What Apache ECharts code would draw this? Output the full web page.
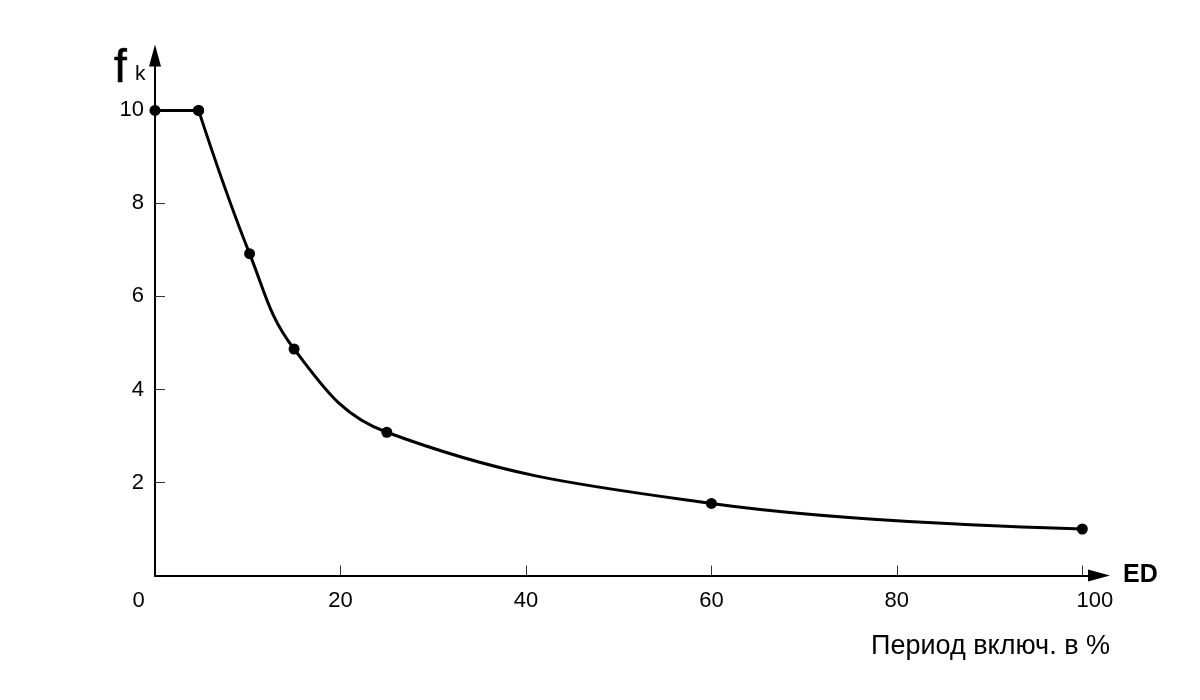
<!DOCTYPE html>
<html>
<head>
<meta charset="utf-8">
<script src="https://cdn.jsdelivr.net/npm/echarts@6/dist/echarts.min.js"></script>
<style>
html,body{margin:0;padding:0;background:#fff;}
#chart{width:1200px;height:700px;}
</style>
</head>
<body>
<div id="chart"></div>
<script>
// Data
var edValues = [0, 4.7, 10.2, 15, 25, 60, 100];   // ED, %
var fkValues = [10, 10, 6.92, 4.87, 3.08, 1.55, 1.0]; // f_k
var xTickValues = [0, 20, 40, 60, 80, 100];
var yTickValues = [2, 4, 6, 8, 10];
var xAxisName = 'ED';
var yNameMain = 'f';
var yNameSub = 'k';
var xCaption = 'Период включ. в %';

var FONT = '"Liberation Sans", Arial, sans-serif';

function pairs(from, to) {
  var out = [];
  for (var i = from; i < to; i++) out.push([edValues[i], fkValues[i]]);
  return out;
}

var chart = echarts.init(document.getElementById('chart'), null, {renderer: 'canvas'});
chart.setOption({
  animation: false,
  backgroundColor: '#ffffff',
  grid: {left: 155, right: 101, top: 55.5, bottom: 124.5, containLabel: false, outerBoundsMode: 'none'},
  xAxis: {
    type: 'value', min: 0, max: 101.8,
    axisLine: {show: true, lineStyle: {color: '#000', width: 2}, symbol: ['none', 'triangle'], symbolSize: [12, 22]},
    axisTick: {show: true, inside: true, length: 10, lineStyle: {color: '#333', width: 1}, customValues: xTickValues.filter(function(v){return v !== 0;})},
    axisLabel: {
      show: true, customValues: xTickValues, margin: 14, color: '#000', fontSize: 22, fontFamily: FONT,
      formatter: function (v) {
        if (v === 0) return '{z|0}';
        if (v === 100) return '{h|100}';
        return String(v);
      },
      rich: {
        z: {padding: [0, 33, 0, 0], fontSize: 22, fontFamily: FONT, color: '#000'},
        h: {padding: [0, 0, 0, 25], fontSize: 22, fontFamily: FONT, color: '#000'}
      }
    },
    splitLine: {show: false},
    name: xAxisName, nameLocation: 'end', nameGap: 24,
    nameTextStyle: {color: '#000', fontSize: 25, fontWeight: 'bold', fontFamily: FONT, align: 'left', verticalAlign: 'middle'}
  },
  yAxis: {
    type: 'value', min: 0, max: 11.18,
    axisLine: {show: true, lineStyle: {color: '#000', width: 2}, symbol: ['none', 'triangle'], symbolSize: [12, 22]},
    axisTick: {show: true, inside: true, length: 10, lineStyle: {color: '#333', width: 1}, customValues: yTickValues},
    axisLabel: {show: true, customValues: yTickValues, margin: 11, color: '#000', fontSize: 22, fontFamily: FONT},
    splitLine: {show: false}
  },
  graphic: [
    {type: 'text', x: 114, y: 69, style: {text: yNameMain, fontSize: 46, fontFamily: FONT, fill: '#000', stroke: '#000', lineWidth: 0.6, verticalAlign: 'middle', align: 'left'}},
    {type: 'text', x: 135, y: 74.7, style: {text: yNameSub, fontSize: 21, fontFamily: FONT, fill: '#000', verticalAlign: 'middle', align: 'left'}},
    {type: 'text', x: 871, y: 647, style: {text: xCaption, fontSize: 27, fontFamily: FONT, fill: '#000', verticalAlign: 'middle', align: 'left'}}
  ],
  series: [
    {
      type: 'line', data: pairs(0, 2), smooth: false,
      symbol: 'circle', symbolSize: 11, showAllSymbol: true,
      lineStyle: {color: '#000', width: 3}, itemStyle: {color: '#000'}
    },
    {
      type: 'line', data: pairs(1, edValues.length), smooth: 0.4,
      symbol: 'circle', symbolSize: 11, showAllSymbol: true,
      lineStyle: {color: '#000', width: 3}, itemStyle: {color: '#000'}
    }
  ]
});
</script>
</body>
</html>
